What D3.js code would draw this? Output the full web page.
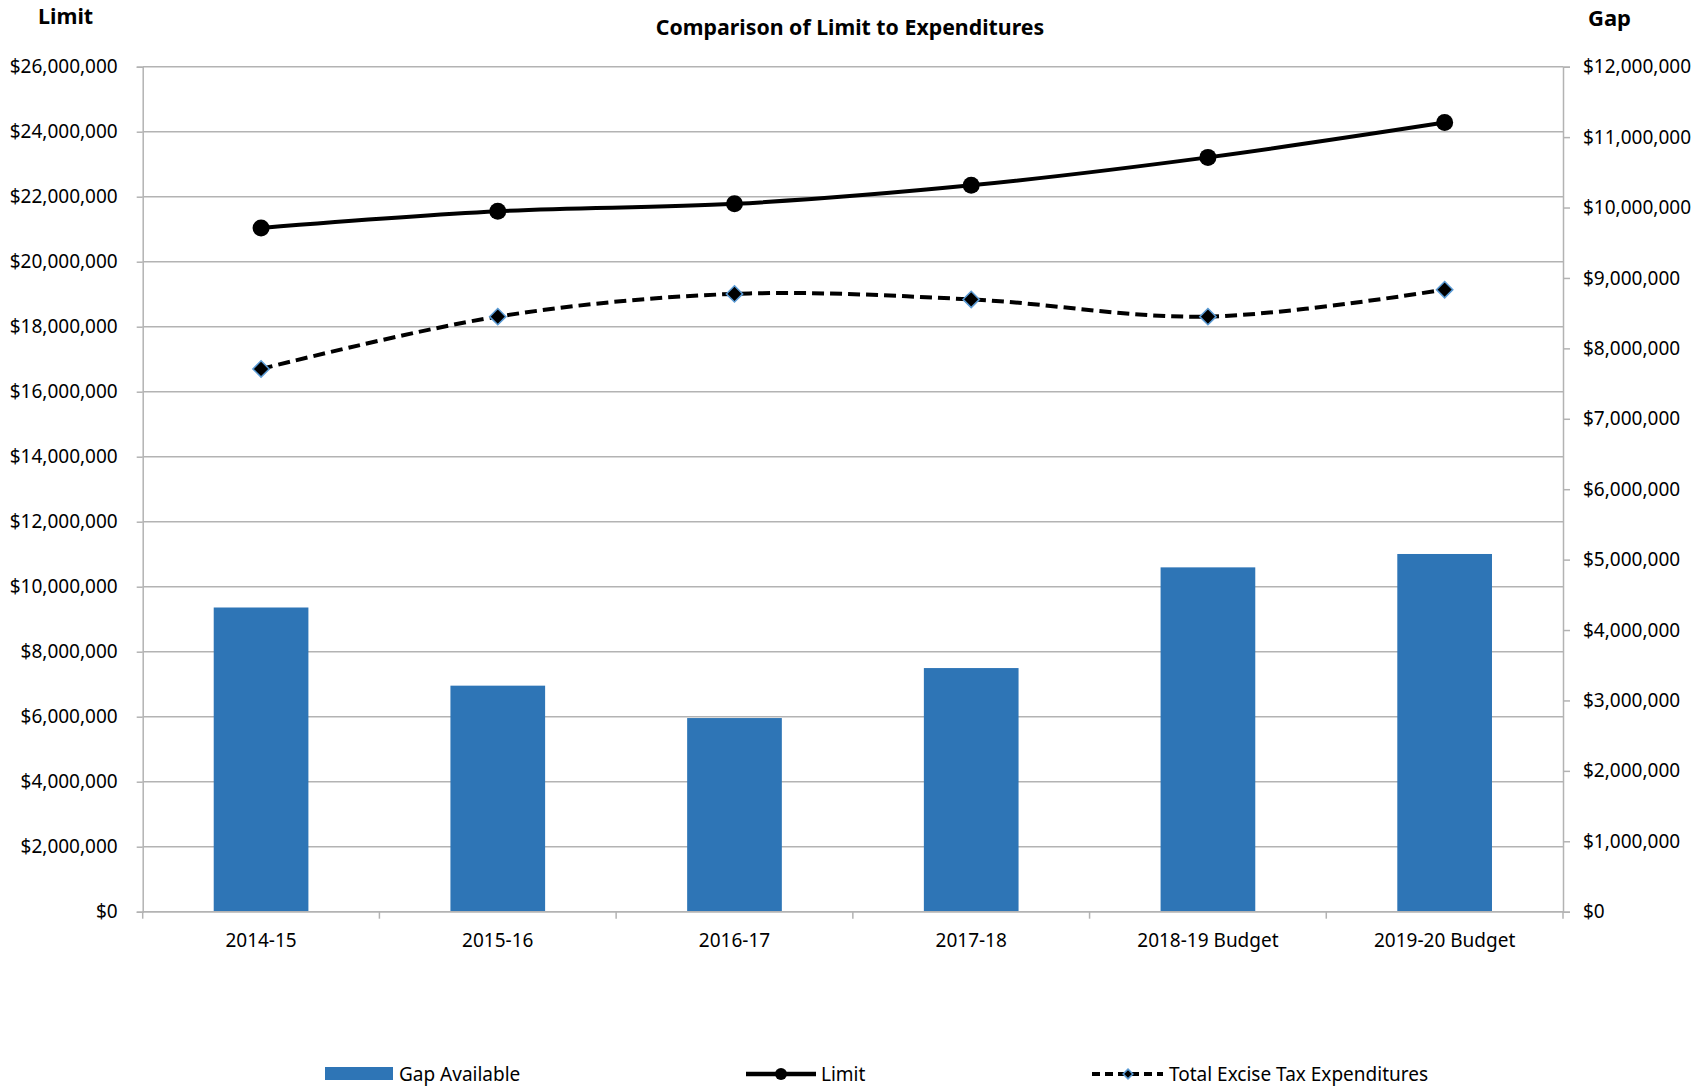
<!DOCTYPE html>
<html lang="en">
    <head>
	<meta charset="utf-8">
	<title>Comparison of Limit to Expenditures</title>
	<script src="https://cdn.jsdelivr.net/npm/d3@7" charset="utf-8"></script>
	<style>
	 body { margin: 0; background: #fff; }
	 text { font-family: "Noto Sans", "Open Sans", sans-serif; fill: #000; }
	</style>
    </head>
    <body>
	<script type="text/javascript">

	 //Data
	 var years = ["2014-15", "2015-16", "2016-17", "2017-18", "2018-19 Budget", "2019-20 Budget"];
	 var gapAvailable = [4320000, 3210000, 2750000, 3460000, 4890000, 5080000];
	 var limit = [21040000, 21550000, 21780000, 22350000, 23210000, 24280000];
	 var expenditures = [16700000, 18310000, 19010000, 18840000, 18310000, 19140000];
	 var leftTicks = d3.range(0, 26000001, 2000000);
	 var rightTicks = d3.range(0, 12000001, 1000000);

	 //Display specifications
	 var width = 1700;
	 var height = 1086;
	 var plot = {left: 142.7, right: 1563, top: 66.7, bottom: 911.7};
	 var gridColor = "#b3b3b3";
	 var barColor = "#2e75b6";
	 var fmt = d3.format("$,.0f");
	 var fontSize = 19;

	 var svg = d3.select("body")
		     .append("svg")
		     .attr("width", width)
		     .attr("height", height);

	 //Set scales
	 var xScale = d3.scaleBand()
			.domain(years)
			.range([plot.left, plot.right])
			.paddingInner(0.6)
			.paddingOuter(0.3);

	 var yLeft = d3.scaleLinear()
		       .domain([0, 26000000])
		       .range([plot.bottom, plot.top]);

	 var yRight = d3.scaleLinear()
			.domain([0, 12000000])
			.range([plot.bottom, plot.top]);

	 var xCenter = function (d) {
	     return xScale(d) + xScale.bandwidth() / 2;
	 };

	 //Gridlines
	 svg.append("g")
	    .selectAll("line")
	    .data(leftTicks)
	    .enter()
	    .append("line")
	    .attr("x1", plot.left)
	    .attr("x2", plot.right)
	    .attr("y1", function (d) { return yLeft(d); })
	    .attr("y2", function (d) { return yLeft(d); })
	    .attr("stroke", gridColor)
	    .attr("stroke-width", 1.5);

	 //Left axis
	 var leftAxis = svg.append("g")
			   .attr("transform", "translate(" + plot.left + ",0)")
			   .call(d3.axisLeft(yLeft).tickValues(leftTicks).tickFormat(fmt).tickSize(6).tickPadding(19));

	 //Right axis
	 var rightAxis = svg.append("g")
			    .attr("transform", "translate(" + plot.right + ",0)")
			    .call(d3.axisRight(yRight).tickValues(rightTicks).tickFormat(fmt).tickSize(7).tickPadding(13));

	 [leftAxis, rightAxis].forEach(function (g) {
	     g.select(".domain").attr("stroke", gridColor).attr("stroke-width", 1.5);
	     g.selectAll(".tick line").attr("stroke", gridColor).attr("stroke-width", 1.5);
	     g.selectAll(".tick text").attr("font-size", fontSize).attr("fill", "#000")
	      .style("font-family", "'Noto Sans', 'Open Sans', sans-serif");
	 });

	 //Bars
	 svg.append("g")
	    .selectAll("rect")
	    .data(gapAvailable)
	    .enter()
	    .append("rect")
	    .attr("x", function (d, i) { return xScale(years[i]); })
	    .attr("y", function (d) { return yRight(d); })
	    .attr("width", xScale.bandwidth())
	    .attr("height", function (d) { return plot.bottom - yRight(d); })
	    .style("fill", barColor);

	 //Bottom axis with ticks between categories
	 var bottom = svg.append("g");
	 bottom.append("line")
	       .attr("x1", plot.left)
	       .attr("x2", plot.right)
	       .attr("y1", plot.bottom)
	       .attr("y2", plot.bottom)
	       .attr("stroke", gridColor)
	       .attr("stroke-width", 1.5);
	 bottom.selectAll(".sep")
	       .data(d3.range(years.length + 1))
	       .enter()
	       .append("line")
	       .attr("x1", function (i) { return plot.left + i * xScale.step(); })
	       .attr("x2", function (i) { return plot.left + i * xScale.step(); })
	       .attr("y1", plot.bottom)
	       .attr("y2", plot.bottom + 7)
	       .attr("stroke", gridColor)
	       .attr("stroke-width", 1.5);
	 bottom.selectAll("text")
	       .data(years)
	       .enter()
	       .append("text")
	       .attr("x", xCenter)
	       .attr("y", 947)
	       .attr("text-anchor", "middle")
	       .attr("font-size", fontSize)
	       .text(function (d) { return d; });

	 //Lines
	 var lineGen = d3.line()
			 .x(function (d, i) { return xCenter(years[i]); })
			 .y(function (d) { return yLeft(d); })
			 .curve(d3.curveCatmullRom);

	 svg.append("path")
	    .datum(expenditures)
	    .attr("d", lineGen)
	    .attr("fill", "none")
	    .attr("stroke", "#000")
	    .attr("stroke-width", 4)
	    .attr("stroke-dasharray", "12,6");

	 svg.append("path")
	    .datum(limit)
	    .attr("d", lineGen)
	    .attr("fill", "none")
	    .attr("stroke", "#000")
	    .attr("stroke-width", 4);

	 svg.append("g")
	    .selectAll("circle")
	    .data(limit)
	    .enter()
	    .append("circle")
	    .attr("cx", function (d, i) { return xCenter(years[i]); })
	    .attr("cy", function (d) { return yLeft(d); })
	    .attr("r", 8.5)
	    .style("fill", "#000");

	 var diamond = d3.symbol().type(d3.symbolDiamond2).size(170);

	 svg.append("g")
	    .selectAll("path")
	    .data(expenditures)
	    .enter()
	    .append("path")
	    .attr("d", diamond)
	    .attr("transform", function (d, i) {
		return "translate(" + xCenter(years[i]) + "," + yLeft(d) + ")";
	    })
	    .style("fill", "#000")
	    .style("stroke", "#5b9bd5")
	    .style("stroke-width", 1.5);

	 //Titles
	 svg.append("text")
	    .attr("x", 850)
	    .attr("y", 35)
	    .attr("text-anchor", "middle")
	    .attr("font-size", 21.3)
	    .attr("font-weight", "bold")
	    .text("Comparison of Limit to Expenditures");

	 svg.append("text")
	    .attr("x", 38)
	    .attr("y", 24)
	    .attr("font-size", 21.5)
	    .attr("font-weight", "bold")
	    .text("Limit");

	 svg.append("text")
	    .attr("x", 1588)
	    .attr("y", 26)
	    .attr("font-size", 22)
	    .attr("font-weight", "bold")
	    .text("Gap");

	 //Legend
	 var legendY = 1074;
	 var legend = svg.append("g");
	 legend.append("rect")
	       .attr("x", 325)
	       .attr("y", legendY - 7)
	       .attr("width", 68)
	       .attr("height", 13)
	       .style("fill", barColor);
	 legend.append("text")
	       .attr("x", 399)
	       .attr("y", legendY + 7)
	       .attr("font-size", fontSize)
	       .text("Gap Available");

	 legend.append("line")
	       .attr("x1", 746).attr("x2", 816)
	       .attr("y1", legendY).attr("y2", legendY)
	       .attr("stroke", "#000").attr("stroke-width", 4.5);
	 legend.append("circle")
	       .attr("cx", 781).attr("cy", legendY).attr("r", 6)
	       .style("fill", "#000");
	 legend.append("text")
	       .attr("x", 821)
	       .attr("y", legendY + 7)
	       .attr("font-size", fontSize)
	       .text("Limit");

	 legend.append("line")
	       .attr("x1", 1092).attr("x2", 1163)
	       .attr("y1", legendY).attr("y2", legendY)
	       .attr("stroke", "#000").attr("stroke-width", 4)
	       .attr("stroke-dasharray", "8,5");
	 legend.append("path")
	       .attr("d", d3.symbol().type(d3.symbolDiamond2).size(60))
	       .attr("transform", "translate(1128," + legendY + ")")
	       .style("fill", "#000")
	       .style("stroke", "#5b9bd5")
	       .style("stroke-width", 1.5);
	 legend.append("text")
	       .attr("x", 1169)
	       .attr("y", legendY + 7)
	       .attr("font-size", fontSize)
	       .text("Total Excise Tax Expenditures");

	</script>
    </body>
</html>
